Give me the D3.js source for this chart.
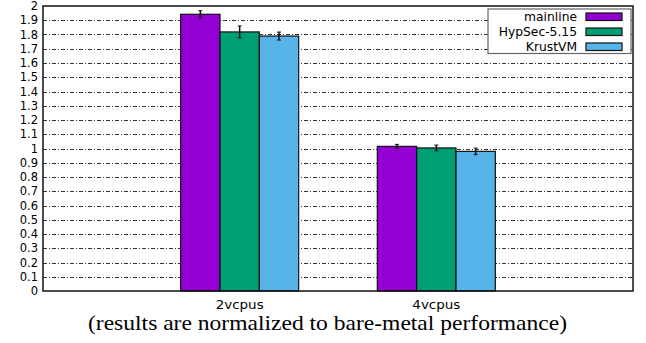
<!DOCTYPE html>
<html>
<head>
<meta charset="utf-8">
<script src="https://cdn.jsdelivr.net/npm/d3@7"></script>
<style>
    body { margin: 0; background: #fff; }
    svg { display: block; }
</style>
</head>
<body>
<svg id="chart" width="646" height="343"></svg>
<script>
// chart data
const categories = ['2vcpus', '4vcpus'];
const seriesNames = ['mainline', 'HypSec-5.15', 'KrustVM'];
const seriesColors = ['#9400d3', '#009e73', '#56b4e9'];
const mainline = [1.942, 1.015];
const hypsec = [1.818, 1.004];
const krustvm = [1.789, 0.980];
const mainlineErr = [0.025, 0.014];
const hypsecErr = [0.042, 0.020];
const krustvmErr = [0.028, 0.023];
const yTicks = d3.range(0, 21).map((d) => d / 10);
const caption = '(results are normalized to bare-metal performance)';

const values = [mainline, hypsec, krustvm];
const errors = [mainlineErr, hypsecErr, krustvmErr];

const svg = d3.select('#chart');
const plotLeft = 43;
const plotRight = 633;
const plotTop = 6;
const plotBottom = 291;

// groups sit at 1 and 2 on a 0..3 axis, bars are 0.2 wide
const x = d3.scaleLinear().domain([0, 3]).range([plotLeft, plotRight]);
const y = d3.scaleLinear().domain([0, 2]).range([plotBottom, plotTop]);
const barW = 0.2;

// grid
svg.append('g')
    .selectAll('line')
    .data(yTicks.filter((d) => d > 0 && d < 2))
    .join('line')
    .attr('x1', plotLeft)
    .attr('x2', plotRight)
    .attr('y1', (d) => Math.round(y(d)) + 0.5)
    .attr('y2', (d) => Math.round(y(d)) + 0.5)
    .attr('stroke', '#000')
    .attr('stroke-width', 0.8)
    .attr('stroke-dasharray', '4,2,1,2');

// y axis
const yAxis = d3.axisLeft(y)
    .tickValues(yTicks)
    .tickSize(0)
    .tickPadding(5)
    .tickFormat((d) => String(+d.toFixed(1)));
const yg = svg.append('g')
    .attr('transform', `translate(${plotLeft},0)`)
    .call(yAxis);
yg.select('.domain').remove();
yg.selectAll('text')
    .attr('font-family', 'DejaVu Sans')
    .attr('font-size', 11.5)
    .attr('fill', '#000');

// bars
seriesNames.forEach((name, s) => {
    svg.append('g')
        .selectAll('rect')
        .data(categories.map((c, i) => ({ i, v: values[s][i] })))
        .join('rect')
        .attr('x', (d) => x(d.i + 1 + (s - 1.5) * barW))
        .attr('y', (d) => y(d.v))
        .attr('width', x(barW) - x(0))
        .attr('height', (d) => y(0) - y(d.v))
        .attr('fill', seriesColors[s])
        .attr('stroke', '#111')
        .attr('stroke-width', 1.2);

    // error bars
    const eg = svg.append('g').attr('stroke', '#111').attr('stroke-width', 1.5);
    categories.forEach((c, i) => {
        const cx = x(i + 1 + (s - 1) * barW);
        const lo = y(values[s][i] - errors[s][i]);
        const hi = y(values[s][i] + errors[s][i]);
        eg.append('line').attr('x1', cx).attr('x2', cx).attr('y1', lo).attr('y2', hi);
        eg.append('line').attr('x1', cx - 2).attr('x2', cx + 2).attr('y1', lo).attr('y2', lo).attr('stroke-width', 1);
        eg.append('line').attr('x1', cx - 2).attr('x2', cx + 2).attr('y1', hi).attr('y2', hi).attr('stroke-width', 1);
    });
});

// frame
svg.append('rect')
    .attr('x', plotLeft)
    .attr('y', plotTop)
    .attr('width', plotRight - plotLeft)
    .attr('height', plotBottom - plotTop)
    .attr('fill', 'none')
    .attr('stroke', '#111')
    .attr('stroke-width', 1.5);

// x labels (the reference stretches these a little sideways)
svg.append('g')
    .selectAll('text')
    .data(categories)
    .join('text')
    .attr('x', (d, i) => x(i + 1) - 24)
    .attr('y', 309)
    .attr('font-family', 'DejaVu Sans')
    .attr('font-size', 11.5)
    .attr('textLength', 48)
    .attr('lengthAdjust', 'spacingAndGlyphs')
    .text((d) => d);

// legend
const lg = svg.append('g');
lg.append('rect')
    .attr('x', 488)
    .attr('y', 9)
    .attr('width', 143)
    .attr('height', 44.5)
    .attr('fill', '#fff')
    .attr('stroke', '#666')
    .attr('stroke-width', 1.2);
seriesNames.forEach((name, s) => {
    const ly = 16.5 + s * 15;
    lg.append('text')
        .attr('x', 577)
        .attr('y', ly + 4)
        .attr('text-anchor', 'end')
        .attr('font-family', 'DejaVu Sans')
        .attr('font-size', 12.3)
        .text(name);
    lg.append('rect')
        .attr('x', 586)
        .attr('y', ly - 3.5)
        .attr('width', 36)
        .attr('height', 7.5)
        .attr('fill', seriesColors[s])
        .attr('stroke', '#111')
        .attr('stroke-width', 1.2);
});

// caption
svg.append('text')
    .attr('x', 88)
    .attr('y', 330)
    .attr('font-family', 'Liberation Serif')
    .attr('font-size', 21.5)
    .attr('textLength', 479)
    .attr('lengthAdjust', 'spacingAndGlyphs')
    .text(caption);
</script>
</body>
</html>
